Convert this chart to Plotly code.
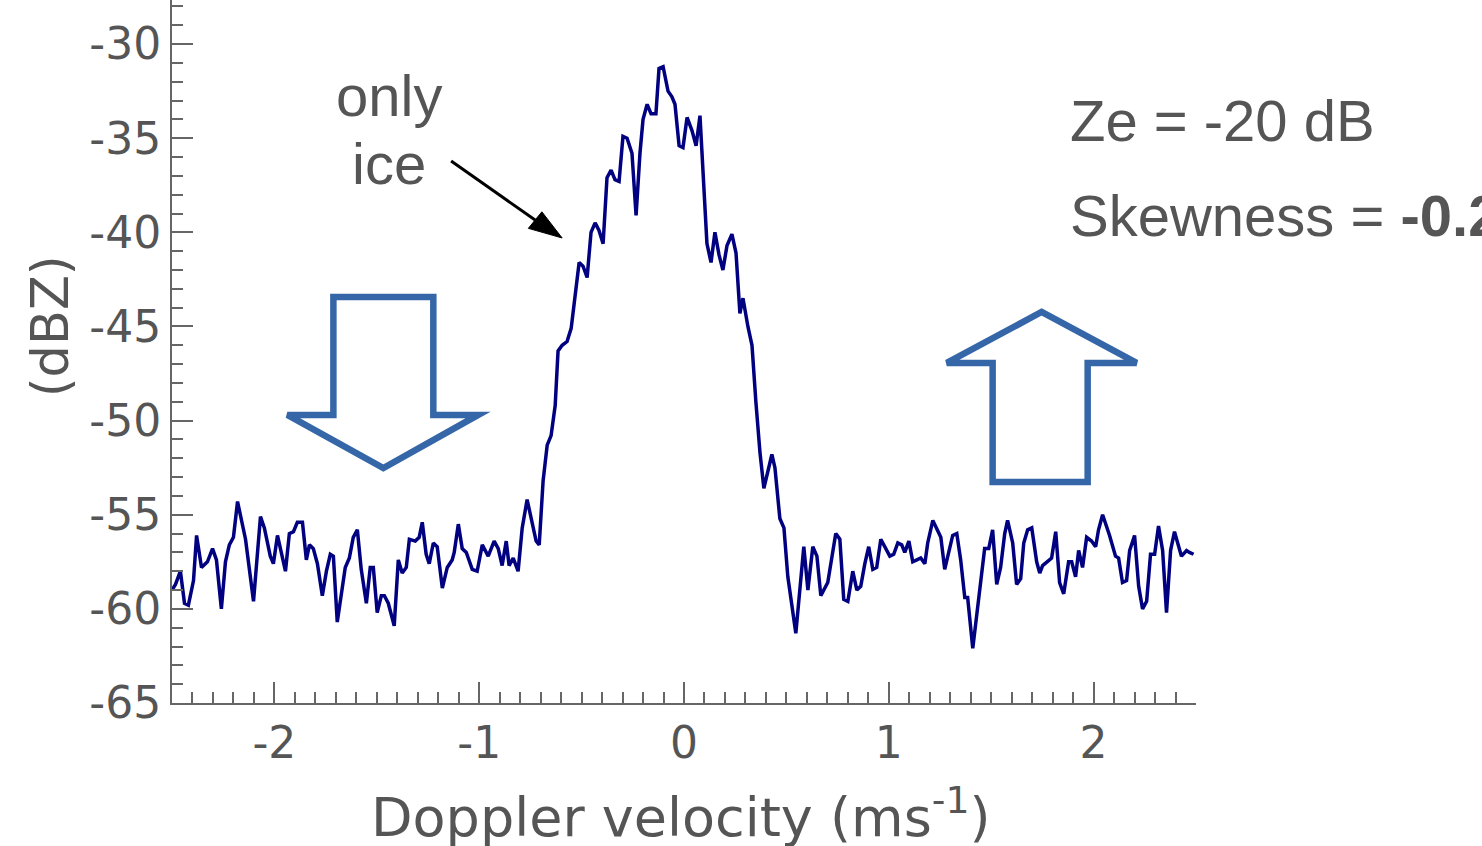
import plotly.graph_objects as go

# Doppler velocity (m/s) and spectral reflectivity (dBZ)
velocity = [
    -2.500, -2.483, -2.459, -2.439, -2.420, -2.395, -2.380, -2.356, -2.327, -2.302,
    -2.283, -2.259, -2.239, -2.220, -2.200, -2.180, -2.141, -2.102, -2.068, -2.049,
    -2.020, -2.005, -1.985, -1.946, -1.927, -1.907, -1.888, -1.863, -1.844, -1.829,
    -1.810, -1.790, -1.766, -1.746, -1.727, -1.712, -1.693, -1.654, -1.634, -1.615,
    -1.595, -1.576, -1.551, -1.532, -1.517, -1.498, -1.478, -1.463, -1.444, -1.415,
    -1.395, -1.376, -1.356, -1.341, -1.312, -1.293, -1.278, -1.259, -1.244, -1.224,
    -1.205, -1.180, -1.156, -1.132, -1.122, -1.102, -1.083, -1.063, -1.034, -1.010,
    -0.985, -0.956, -0.927, -0.907, -0.888, -0.868, -0.854, -0.834, -0.810, -0.790,
    -0.766, -0.722, -0.707, -0.688, -0.668, -0.649, -0.629, -0.615, -0.595, -0.571,
    -0.551, -0.532, -0.512, -0.493, -0.473, -0.454, -0.434, -0.415, -0.395, -0.376,
    -0.356, -0.337, -0.317, -0.298, -0.278, -0.254, -0.234, -0.215, -0.200, -0.180,
    -0.161, -0.137, -0.122, -0.102, -0.078, -0.059, -0.044, -0.024, -0.005, 0.015,
    0.039, 0.059, 0.078, 0.112, 0.132, 0.151, 0.171, 0.190, 0.210, 0.234,
    0.254, 0.273, 0.288, 0.312, 0.332, 0.351, 0.371, 0.390, 0.410, 0.429,
    0.444, 0.468, 0.488, 0.507, 0.546, 0.585, 0.605, 0.629, 0.649, 0.668,
    0.702, 0.741, 0.761, 0.780, 0.800, 0.824, 0.844, 0.863, 0.883, 0.902,
    0.922, 0.941, 0.961, 0.985, 1.005, 1.024, 1.044, 1.063, 1.078, 1.098,
    1.117, 1.137, 1.156, 1.176, 1.190, 1.215, 1.234, 1.254, 1.273, 1.293,
    1.312, 1.332, 1.351, 1.371, 1.385, 1.410, 1.439, 1.468, 1.488, 1.507,
    1.527, 1.546, 1.566, 1.580, 1.605, 1.624, 1.644, 1.659, 1.678, 1.698,
    1.722, 1.737, 1.751, 1.771, 1.795, 1.815, 1.834, 1.854, 1.878, 1.893,
    1.912, 1.927, 1.946, 1.966, 1.990, 2.010, 2.024, 2.044, 2.078, 2.107,
    2.122, 2.141, 2.161, 2.176, 2.200, 2.220, 2.239, 2.259, 2.278, 2.298,
    2.317, 2.337, 2.356, 2.376, 2.395, 2.429, 2.454, 2.468, 2.488,
]
reflectivity = [
    -59.0, -58.7, -58.0, -59.7, -59.8, -58.5, -56.1, -57.8, -57.5, -56.8,
    -57.4, -60.0, -57.5, -56.6, -56.2, -54.3, -56.3, -59.6, -55.1, -55.7,
    -57.2, -57.6, -56.1, -58.0, -56.0, -55.9, -55.4, -55.4, -57.4, -56.6,
    -56.8, -57.6, -59.3, -58.0, -57.1, -57.2, -60.7, -57.8, -57.3, -56.2,
    -55.8, -57.9, -59.7, -57.8, -57.8, -60.2, -59.3, -59.3, -59.7, -60.9,
    -57.4, -58.1, -57.8, -56.3, -56.4, -56.2, -55.4, -57.1, -57.6, -56.5,
    -56.7, -58.9, -57.8, -57.4, -57.0, -55.5, -56.8, -57.0, -57.9, -58.0,
    -56.6, -57.2, -56.4, -56.8, -57.7, -56.4, -57.7, -57.3, -58.0, -55.7,
    -54.2, -56.4, -56.6, -53.2, -51.3, -50.8, -49.2, -46.3, -46.0, -45.8,
    -45.1, -43.4, -41.6, -41.8, -42.4, -40.0, -39.5, -39.9, -40.6, -37.1,
    -36.7, -37.2, -37.3, -34.9, -35.0, -35.8, -39.1, -35.8, -34.0, -33.2,
    -33.7, -33.7, -31.3, -31.2, -32.5, -32.8, -33.2, -35.4, -35.5, -33.9,
    -34.6, -35.4, -33.8, -40.6, -41.6, -40.0, -41.2, -42.0, -40.7, -40.1,
    -41.1, -44.3, -43.5, -45.0, -46.0, -49.0, -51.7, -53.6, -52.6, -51.8,
    -52.5, -55.2, -55.7, -58.3, -61.3, -56.7, -59.0, -56.7, -57.2, -59.3,
    -58.6, -56.0, -56.3, -59.5, -59.6, -58.0, -59.0, -58.8, -57.6, -56.7,
    -57.9, -57.8, -56.3, -56.8, -57.2, -57.1, -56.5, -56.6, -57.0, -56.4,
    -57.5, -57.4, -57.3, -57.6, -56.5, -55.3, -55.7, -56.2, -57.9, -57.0,
    -56.1, -56.0, -57.4, -59.4, -59.4, -62.1, -59.5, -56.8, -56.8, -55.8,
    -58.7, -57.8, -56.0, -55.3, -56.5, -58.7, -58.4, -56.5, -55.8, -55.7,
    -57.5, -58.1, -57.7, -57.5, -57.3, -55.9, -58.6, -59.2, -57.5, -57.5,
    -58.3, -56.9, -57.8, -56.2, -56.4, -56.7, -55.8, -55.0, -56.1, -57.2,
    -57.3, -58.6, -58.5, -56.9, -56.1, -58.8, -60.0, -59.6, -57.1, -57.1,
    -55.6, -56.9, -60.2, -56.9, -55.9, -57.2, -56.9, -57.0, -57.1,
]

x_tickvals = [-2, -1, 0, 1, 2]
x_ticktext = ["-2", "-1", "0", "1", "2"]
y_tickvals = [-65, -60, -55, -50, -45, -40, -35, -30]
y_ticktext = ["-65", "-60", "-55", "-50", "-45", "-40", "-35", "-30"]

x_range = [-2.5, 2.5]
y_range = [-65, -27.66]

TEXT = "#555555"
AXIS = "#666666"
ARROW_BLUE = "#3566A8"
TICK_FONT = dict(family="DejaVu Sans", size=44, color=TEXT)
NOTE_FONT = dict(family="Liberation Sans", size=58, color=TEXT)

fig = go.Figure()
fig.add_trace(go.Scatter(
    x=velocity, y=reflectivity, mode="lines",
    line=dict(color="#000080", width=3.5), hoverinfo="skip",
))

# block arrows (data coordinates)
down_arrow = [(-1.712, -43.44), (-1.224, -43.44), (-1.224, -49.70), (-1.005, -49.70),
              (-1.468, -52.52), (-1.937, -49.70), (-1.712, -49.70)]
up_arrow = [(1.746, -44.23), (2.210, -46.94), (1.971, -46.94), (1.971, -53.26),
            (1.507, -53.26), (1.507, -46.94), (1.283, -46.94)]


def poly(pts):
    return "M " + " L ".join(f"{a},{b}" for a, b in pts) + " Z"


for pts in (down_arrow, up_arrow):
    fig.add_shape(type="path", path=poly(pts), xref="x", yref="y",
                  line=dict(color=ARROW_BLUE, width=6.5), fillcolor="rgba(0,0,0,0)")

# black pointer arrow
fig.add_shape(type="line", xref="x", yref="y", x0=-1.137, y0=-36.21, x1=-0.727, y1=-39.35,
              line=dict(color="black", width=3))
fig.add_shape(type="path", xref="x", yref="y",
              path=poly([(-0.595, -40.30), (-0.760, -39.79), (-0.694, -38.91)]),
              line=dict(color="black", width=1), fillcolor="black")

fig.add_annotation(x=-1.439, y=-32.71, xref="x", yref="y", text="only", showarrow=False,
                   font=NOTE_FONT, xanchor="center", yanchor="middle")
fig.add_annotation(x=-1.439, y=-36.32, xref="x", yref="y", text="ice", showarrow=False,
                   font=NOTE_FONT, xanchor="center", yanchor="middle")
fig.add_annotation(x=1.873, y=-34.04, xref="x", yref="y", text="Ze = -20 dB", showarrow=False,
                   font=NOTE_FONT, xanchor="left", yanchor="middle")
fig.add_annotation(x=1.873, y=-39.13, xref="x", yref="y", text="Skewness = <b>-0.2</b>",
                   showarrow=False, font=NOTE_FONT, xanchor="left", yanchor="middle")

# axis titles
fig.add_annotation(x=-0.119, y=0.536, xref="paper", yref="paper", text="(dBZ)", textangle=-90,
                   showarrow=False, font=dict(family="DejaVu Sans", size=51, color=TEXT),
                   xanchor="center", yanchor="middle")
fig.add_annotation(x=0.497, y=-0.1565, xref="paper", yref="paper",
                   text="Doppler velocity (ms<sup>-1</sup>)", showarrow=False,
                   font=dict(family="DejaVu Sans", size=54, color=TEXT),
                   xanchor="center", yanchor="middle")

fig.update_layout(
    width=1482, height=846,
    margin=dict(l=172, r=286, t=0, b=143),
    paper_bgcolor="white", plot_bgcolor="white",
    showlegend=False,
    xaxis=dict(
        range=x_range, showgrid=False, zeroline=False,
        showline=True, linecolor=AXIS, linewidth=2,
        tickmode="array", tickvals=x_tickvals, ticktext=x_ticktext,
        ticks="inside", ticklen=21, tickwidth=2, tickcolor=AXIS,
        tickfont=TICK_FONT,
        minor=dict(ticks="inside", ticklen=11, tickwidth=2, tickcolor=AXIS, dtick=0.1,
                   tick0=0, showgrid=False),
    ),
    yaxis=dict(
        range=y_range, showgrid=False, zeroline=False,
        showline=True, linecolor=AXIS, linewidth=2,
        tickmode="array", tickvals=y_tickvals, ticktext=y_ticktext,
        ticks="inside", ticklen=21, tickwidth=2, tickcolor=AXIS,
        tickfont=TICK_FONT,
        minor=dict(ticks="inside", ticklen=11, tickwidth=2, tickcolor=AXIS, dtick=1,
                   tick0=-65, showgrid=False),
    ),
)

fig.write_html("out.html", config={"displayModeBar": False},
               post_script="document.body.style.margin='0px';")
